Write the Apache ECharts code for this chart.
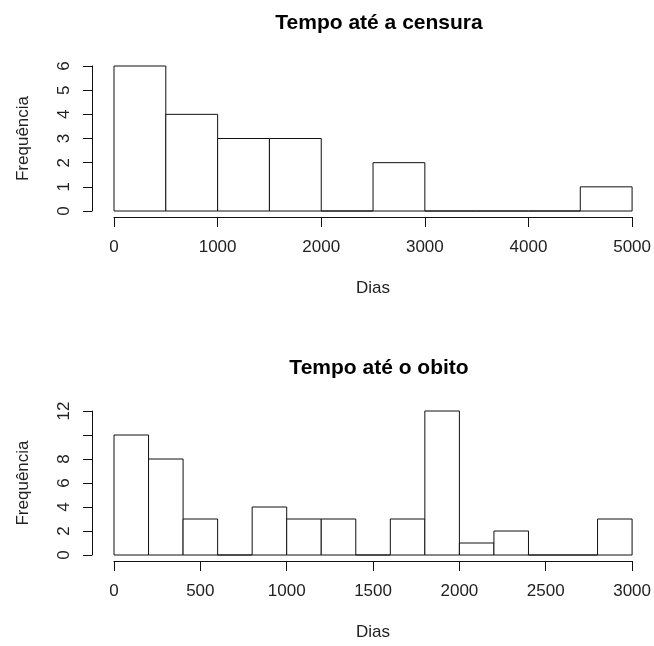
<!DOCTYPE html>
<html>
<head>
<meta charset="utf-8">
<script src="https://cdn.jsdelivr.net/npm/echarts@6/dist/echarts.min.js"></script>
<style>
  html, body { margin: 0; padding: 0; background: #fff; }
  #main { width: 654px; height: 646px; }
</style>
</head>
<body>
<div id="main"></div>
<script>
// dados dos histogramas (limites das classes e frequências)
var censuraBreaks = [0, 500, 1000, 1500, 2000, 2500, 3000, 3500, 4000, 4500, 5000];
var censuraCounts = [6, 4, 3, 3, 0, 2, 0, 0, 0, 1];
var censuraYLabels = [0, 1, 2, 3, 4, 5, 6];

var obitoBreaks = [0, 200, 400, 600, 800, 1000, 1200, 1400, 1600, 1800, 2000, 2200, 2400, 2600, 2800, 3000];
var obitoCounts = [10, 8, 3, 0, 4, 3, 3, 0, 3, 12, 1, 2, 0, 0, 3];
var obitoYLabels = [0, 2, 4, 6, 8, 12];

var FONT = 'Liberation Sans, Arial, sans-serif';
var TXT = '#222';

var EChart = echarts.init(document.getElementById('main'));

// transforma limites + contagens em [x0, x1, n]
function toBins (breaks, counts) {
  let bins = [];
  counts.forEach((n, i) => {
    bins.push([breaks[i], breaks[i + 1], n]);
  });
  return bins;
}

function renderBar (params, api) {
  let p0 = api.coord([api.value(0), 0]);
  let p1 = api.coord([api.value(1), api.value(2)]);
  return {
    type: 'rect',
    shape: { x: p0[0], y: p1[1], width: p1[0] - p0[0], height: p0[1] - p1[1] },
    style: { fill: '#fff', stroke: '#111', lineWidth: 1 }
  };
}

function xAxisCfg (idx, max, interval) {
  return {
    gridIndex: idx,
    type: 'value',
    min: 0,
    max: max,
    interval: interval,
    offset: 6,
    name: 'Dias',
    nameLocation: 'middle',
    nameGap: 63,
    nameTextStyle: { fontFamily: FONT, fontSize: 17, color: TXT },
    splitLine: { show: false },
    axisLine: { show: true, onZero: false, lineStyle: { color: '#111', width: 1 } },
    axisTick: { show: true, length: 10, lineStyle: { color: '#111' } },
    axisLabel: {
      fontFamily: FONT, fontSize: 17, color: TXT, margin: 22,
      showMinLabel: true, showMaxLabel: true,
      formatter: v => String(v)
    }
  };
}

function yAxisCfg (idx, max, interval, labels) {
  return {
    gridIndex: idx,
    type: 'value',
    min: 0,
    max: max,
    interval: interval,
    offset: 22,
    name: 'Frequência',
    nameLocation: 'middle',
    nameGap: 60,
    nameTextStyle: { fontFamily: FONT, fontSize: 17, color: TXT },
    splitLine: { show: false },
    axisLine: { show: true, onZero: false, lineStyle: { color: '#111', width: 1 } },
    axisTick: { show: true, length: 9, lineStyle: { color: '#111' } },
    axisLabel: {
      fontFamily: FONT, fontSize: 17, color: TXT, rotate: 90, margin: 19,
      formatter: v => labels.indexOf(v) >= 0 ? String(v) : ''
    }
  };
}

EChart.setOption({
  animation: false,
  title: [
    {
      text: 'Tempo até a censura',
      left: 374, top: 8, textAlign: 'center',
      textStyle: { fontFamily: FONT, fontSize: 21, fontWeight: 'bold', color: '#000' }
    },
    {
      text: 'Tempo até o obito',
      left: 374, top: 353, textAlign: 'center',
      textStyle: { fontFamily: FONT, fontSize: 21, fontWeight: 'bold', color: '#000' }
    }
  ],
  grid: [
    { left: 114, width: 520, top: 66, height: 145 },
    { left: 114, width: 520, top: 411, height: 144 }
  ],
  xAxis: [
    xAxisCfg(0, 5000, 1000),
    xAxisCfg(1, 3000, 500)
  ],
  yAxis: [
    yAxisCfg(0, 6, 1, censuraYLabels),
    yAxisCfg(1, 12, 2, obitoYLabels)
  ],
  series: [
    {
      type: 'custom',
      xAxisIndex: 0, yAxisIndex: 0,
      renderItem: renderBar,
      encode: { x: [0, 1], y: 2 },
      data: toBins(censuraBreaks, censuraCounts)
    },
    {
      type: 'custom',
      xAxisIndex: 1, yAxisIndex: 1,
      renderItem: renderBar,
      encode: { x: [0, 1], y: 2 },
      data: toBins(obitoBreaks, obitoCounts)
    }
  ]
});
</script>
</body>
</html>
